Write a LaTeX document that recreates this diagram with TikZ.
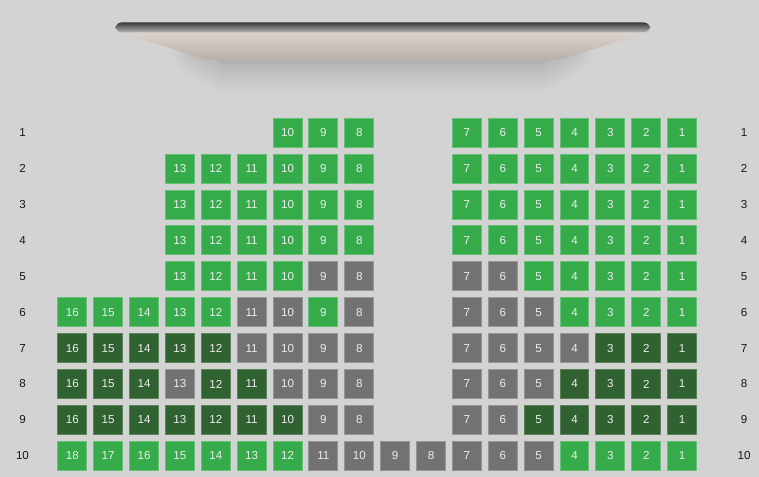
\documentclass[tikz,border=0pt]{standalone}
\usepackage{fontspec}
\setmainfont{Liberation Sans}
\definecolor{bg}{HTML}{D3D3D3}
\definecolor{sgreen}{HTML}{35AB4A}
\definecolor{sdark}{HTML}{306131}
\definecolor{sgray}{HTML}{727272}
\definecolor{bartop}{HTML}{3A3A3A}
\definecolor{barbot}{HTML}{B4B4B4}
\definecolor{scrtop}{HTML}{DCD4D0}
\definecolor{scrbot}{HTML}{B9AFA6}
\newcommand\seatnode[4]{\node[#4] (s#1-#2) at ({72.3+35.87*#2},{132.7+35.9*(#1-1)}) {#3};}
\newcommand\seatL[3]{\pgfmathtruncatemacro\kk{16-#2}\seatnode{#1}{\kk}{#2}{#3}}
\newcommand\seatR[3]{\pgfmathtruncatemacro\kk{18-#2}\seatnode{#1}{\kk}{#2}{#3}}
\begin{document}
\begin{tikzpicture}[x=0.75pt,y=-0.75pt,
  seatbase/.style={minimum width=21.7pt,minimum height=21.7pt,inner sep=0pt,
    font=\fontsize{8.7}{9}\selectfont,text=white!93!black,line width=0.7pt},
  sg/.style={seatbase,fill=sgreen,draw=sgreen!75!white},
  sd/.style={seatbase,fill=sdark,draw=sdark!80!white},
  sx/.style={seatbase,fill=sgray,draw=sgray!75!white},
  rowlab/.style={font=\fontsize{8.7}{9}\selectfont,text=black!90,inner sep=0pt}]
\fill[bg] (0,0) rectangle (759,477);
\useasboundingbox (0,0) rectangle (759,477);
% screen shadow (blur imitation)
\fill[black,opacity=0.03] (200,50) -- (565,50) -- (540,64) -- (225,64) -- cycle;
\foreach \w in {2,4,...,56}{
  \draw[black,opacity=0.0042,line width=\w*0.75pt,line join=round]
    (200,50) -- (565,50) -- (540,64) -- (225,64) -- cycle;
}
% screen
\shade[top color=scrtop,bottom color=scrbot] (119,32) -- (647,32) -- (560,59.5) -- (205.5,59.5) -- cycle;
\shade[top color=bartop,bottom color=barbot,rounded corners=4.5] (115.5,22.5) rectangle (650,32.3);
% row labels
\foreach \r in {1,...,10}{
  \node[rowlab] (ll\r) at (22.5,{132.7+35.9*(\r-1)}) {\r};
  \node[rowlab] (lr\r) at (744,{132.7+35.9*(\r-1)}) {\r};
}
% row 1
\foreach \a/\b in {10/sg,9/sg,8/sg}{\seatL{1}{\a}{\b}}
\foreach \a/\b in {7/sg,6/sg,5/sg,4/sg,3/sg,2/sg,1/sg}{\seatR{1}{\a}{\b}}
% rows 2-4
\foreach \r in {2,3,4}{
  \foreach \a/\b in {13/sg,12/sg,11/sg,10/sg,9/sg,8/sg}{\seatL{\r}{\a}{\b}}
  \foreach \a/\b in {7/sg,6/sg,5/sg,4/sg,3/sg,2/sg,1/sg}{\seatR{\r}{\a}{\b}}
}
% row 5
\foreach \a/\b in {13/sg,12/sg,11/sg,10/sg,9/sx,8/sx}{\seatL{5}{\a}{\b}}
\foreach \a/\b in {7/sx,6/sx,5/sg,4/sg,3/sg,2/sg,1/sg}{\seatR{5}{\a}{\b}}
% row 6
\foreach \a/\b in {16/sg,15/sg,14/sg,13/sg,12/sg,11/sx,10/sx,9/sg,8/sx}{\seatL{6}{\a}{\b}}
\foreach \a/\b in {7/sx,6/sx,5/sx,4/sg,3/sg,2/sg,1/sg}{\seatR{6}{\a}{\b}}
% row 7
\foreach \a/\b in {16/sd,15/sd,14/sd,13/sd,12/sd,11/sx,10/sx,9/sx,8/sx}{\seatL{7}{\a}{\b}}
\foreach \a/\b in {7/sx,6/sx,5/sx,4/sx,3/sd,2/sd,1/sd}{\seatR{7}{\a}{\b}}
% row 8
\foreach \a/\b in {16/sd,15/sd,14/sd,13/sx,12/sd,11/sd,10/sx,9/sx,8/sx}{\seatL{8}{\a}{\b}}
\foreach \a/\b in {7/sx,6/sx,5/sx,4/sd,3/sd,2/sd,1/sd}{\seatR{8}{\a}{\b}}
% row 9
\foreach \a/\b in {16/sd,15/sd,14/sd,13/sd,12/sd,11/sd,10/sd,9/sx,8/sx}{\seatL{9}{\a}{\b}}
\foreach \a/\b in {7/sx,6/sx,5/sd,4/sd,3/sd,2/sd,1/sd}{\seatR{9}{\a}{\b}}
% row 10
\foreach \a/\b in {18/sg,17/sg,16/sg,15/sg,14/sg,13/sg,12/sg,11/sx,10/sx,9/sx,8/sx,7/sx,6/sx,5/sx,4/sg,3/sg,2/sg,1/sg}{\seatR{10}{\a}{\b}}
\end{tikzpicture}
\end{document}
